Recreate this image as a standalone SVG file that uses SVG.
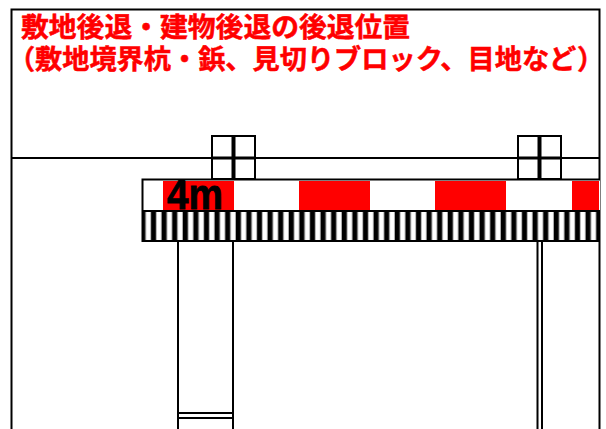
<svg xmlns="http://www.w3.org/2000/svg" width="606" height="429" viewBox="0 0 606 429">
<style>
.l{fill:none;stroke:#000;stroke-width:2}
.c{fill:none;stroke:#000;stroke-width:4}
.m{fill:none;stroke:#000;stroke-width:3}
.r{fill:#f00}
.t{font-family:"Noto Sans CJK JP","Liberation Sans",sans-serif;font-weight:700;font-size:27.200px;fill:#f00;stroke:#f00;stroke-width:.5}
</style>
<defs>
<pattern id="h" patternUnits="userSpaceOnUse" x="140.600" y="0" width="10.600" height="10">
<rect width="10.600" height="10" fill="#000"/>
<rect x="4.600" width="6" height="10" fill="#aaa"/>
<rect x="5.600" width="4" height="10" fill="#fff"/>
</pattern>
</defs>
<rect width="606" height="429" fill="#fff"/>
<g id="frame">
<path class="l" d="M11.500 429V9.500H599.500V429"/>
<path class="l" d="M11 158H212M255 158H599"/>
</g>
<g id="title">
<text class="t" x="21" y="37" style="font-size:27.800px">敷地後退・建物後退の後退位置</text>
<text class="t" x="8" y="69">（<tspan x="35">敷地境界杭・鋲、見切りブロック、目地など</tspan><tspan x="577">）</tspan></text>
</g>
<g id="post-left">
<rect class="l" x="212" y="136" width="43" height="43"/>
<path class="m" d="M212 158H255"/><path class="c" d="M233.500 136V179"/>
</g>
<g id="post-right">
<rect class="l" x="518" y="136" width="43" height="43"/>
<path class="m" d="M518 158H561"/><path class="c" d="M539.500 136V179"/>
</g>
<g id="strip">
<rect x="142" y="179" width="458" height="32" fill="#fff"/>
<rect class="r" x="163" y="181" width="71" height="29"/>
<rect class="r" x="299" y="181" width="71" height="29"/>
<rect class="r" x="435" y="181" width="71" height="29"/>
<rect class="r" x="572" y="181" width="27" height="29"/>
<path class="l" d="M600 179.500H142.500V211"/>
<text x="167" y="209" font-family="Liberation Sans,sans-serif" font-weight="700" font-size="43" textLength="56" lengthAdjust="spacingAndGlyphs" fill="#000" stroke="#000" stroke-width=".8">4m</text>
</g>
<g id="hatch">
<rect x="142" y="211" width="458" height="31" fill="url(#h)"/>
<path class="l" d="M142 211H600M142 241H600M142.500 211V242"/>
</g>
<g id="lower">
<path class="l" d="M178 241V429M233 241V429M178 413H233M178 418H233M537.500 241V429M542 241V429"/>
</g>
</svg>
